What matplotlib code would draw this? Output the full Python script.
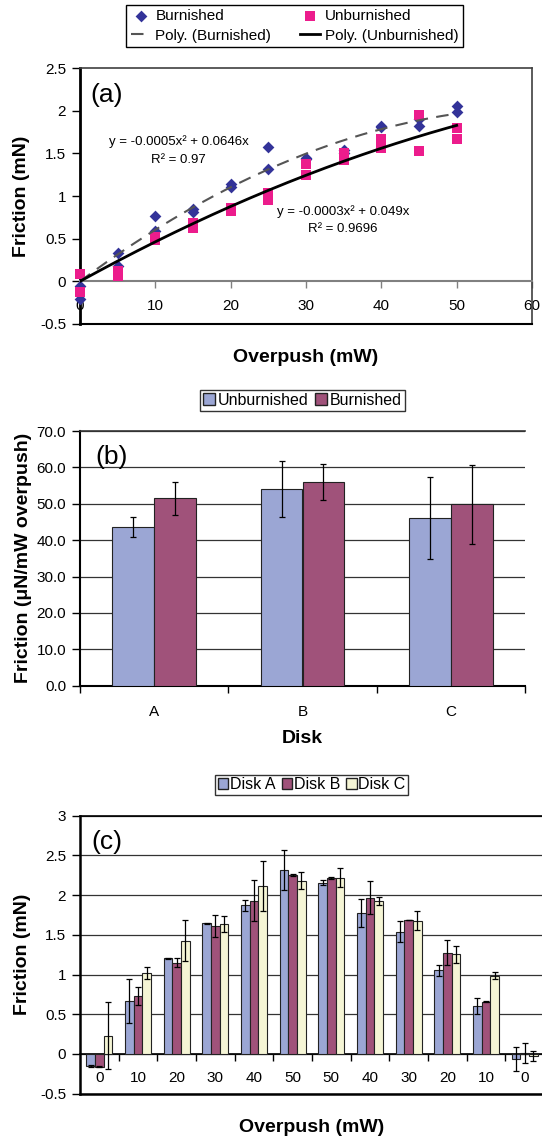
import numpy as np
import matplotlib
matplotlib.use("Agg")
import matplotlib.pyplot as plt
from matplotlib.ticker import FuncFormatter, MultipleLocator, FixedLocator
from matplotlib.patches import Patch

plt.rcParams['font.family'] = ['Liberation Sans', 'DejaVu Sans']

# ---------------- (a) friction vs overpush, two runs per setting ----------------
overpush = [0, 0, 5, 5, 10, 10, 15, 15, 20, 20, 25, 25, 30, 30, 35, 35, 40, 40, 45, 45, 50, 50]
burnished = [-0.05, -0.21, 0.33, 0.18, 0.77, 0.59, 0.85, 0.81, 1.14, 1.11, 1.58, 1.32,
             1.45, 1.43, 1.54, 1.50, 1.82, 1.81, 1.82, 1.90, 2.05, 1.98]
unburnished = [0.09, -0.12, 0.12, 0.06, 0.52, 0.48, 0.68, 0.62, 0.86, 0.82, 1.03, 0.95,
               1.38, 1.25, 1.50, 1.42, 1.67, 1.56, 1.95, 1.53, 1.80, 1.67]
eq_burnished = ["y = -0.0005x² + 0.0646x", "R² = 0.97"]
eq_unburnished = ["y = -0.0003x² + 0.049x", "R² = 0.9696"]

# ---------------- (b) friction rate per disk ----------------
disks = ["A", "B", "C"]
rate_unburnished = [43.5, 54.0, 46.0]
rate_unburnished_err = [2.75, 7.75, 11.3]
rate_burnished = [51.5, 55.9, 49.8]
rate_burnished_err = [4.5, 4.9, 10.85]

# ---------------- (c) friction through an overpush up/down sweep ----------------
sweep_labels = ["0", "10", "20", "30", "40", "50", "50", "40", "30", "20", "10", "0"]
disk_a = [-0.15, 0.667, 1.204, 1.645, 1.87, 2.316, 2.157, 1.77, 1.54, 1.053, 0.60, -0.063]
disk_a_err = [0.01, 0.28, 0.005, 0.01, 0.07, 0.25, 0.035, 0.175, 0.135, 0.065, 0.10, 0.15]
disk_b = [-0.16, 0.73, 1.15, 1.61, 1.93, 2.25, 2.215, 1.97, 1.687, 1.276, 0.66, 0.01]
disk_b_err = [0.005, 0.11, 0.055, 0.14, 0.255, 0.015, 0.015, 0.21, 0.005, 0.16, 0.005, 0.125]
disk_c = [0.23, 1.015, 1.427, 1.632, 2.115, 2.18, 2.22, 1.926, 1.68, 1.255, 0.986, -0.02]
disk_c_err = [0.42, 0.075, 0.255, 0.10, 0.31, 0.105, 0.12, 0.055, 0.125, 0.11, 0.045, 0.063]

NAVY = "#333399"
MAGENTA = "#EC1C8C"
BLUE = "#9BA6D4"
PLUM = "#A0527A"
CREAM = "#F5F5D5"
EDGE = "#222222"
GRID = "#333333"

W, H = 542, 1143
fig = plt.figure(figsize=(W / 100, H / 100), dpi=100)


def px_axes(left, top, right, bottom):
    return fig.add_axes([left / W, 1 - bottom / H, (right - left) / W, (bottom - top) / H])


gfmt = FuncFormatter(lambda v, p: f"{v:g}")
TICK_FS = 11
LABEL_FS = 14


def fit_through_origin(x, y):
    x = np.asarray(x, float)
    y = np.asarray(y, float)
    A = np.column_stack([x ** 2, x])
    coef, *_ = np.linalg.lstsq(A, y, rcond=None)
    return coef


# ================= panel (a) =================
ax = px_axes(80, 68, 532, 324)
x = np.asarray(overpush, float)
xs = np.linspace(0, 50, 200)
cb = fit_through_origin(overpush, burnished)
cu = fit_through_origin(overpush, unburnished)

h_b = ax.scatter(x, burnished, marker="D", s=36, color=NAVY, zorder=3, clip_on=False,
                 linewidths=0, label="Burnished")
h_u = ax.scatter(x, unburnished, marker="s", s=46, color=MAGENTA, zorder=4, clip_on=False,
                 linewidths=0, label="Unburnished")
l_b, = ax.plot(xs, cb[0] * xs ** 2 + cb[1] * xs, color="#555555", lw=1.5,
               dashes=(6, 4), zorder=5, label="Poly. (Burnished)")
l_u, = ax.plot(xs, cu[0] * xs ** 2 + cu[1] * xs, color="black", lw=2, zorder=5,
               label="Poly. (Unburnished)")

ax.set_xlim(0, 60)
ax.set_ylim(-0.5, 2.5)
ax.xaxis.set_major_locator(MultipleLocator(10))
ax.yaxis.set_major_locator(MultipleLocator(0.5))
ax.xaxis.set_major_formatter(gfmt)
ax.yaxis.set_major_formatter(gfmt)
ax.spines["bottom"].set_position(("data", 0))
ax.spines["bottom"].set_color("#808080")
ax.spines["bottom"].set_linewidth(1.5)
ax.spines["left"].set_color("black")
ax.spines["left"].set_linewidth(2)
for s in ("top", "right"):
    ax.spines[s].set_color("#404040")
    ax.spines[s].set_linewidth(1.2)
ax.axhline(-0.5, color="black", lw=1.5, clip_on=False, zorder=6)
ax.tick_params(axis="x", direction="out", length=5, width=1, pad=8, labelsize=TICK_FS,
               color="#808080")
ax.tick_params(axis="y", direction="out", length=6, width=1, pad=4, labelsize=TICK_FS)
ax.set_xlabel("Overpush (mW)", fontsize=LABEL_FS, fontweight="bold")
ax.xaxis.set_label_coords(0.5, -0.097)
ax.xaxis.label.set_va("top")
ax.set_ylabel("Friction (mN)", fontsize=LABEL_FS, fontweight="bold")
ax.yaxis.set_label_coords(-0.11, 0.5)
ax.text(0.022, 0.894, "(a)", transform=ax.transAxes, fontsize=19, ha="left", va="center")
ax.text(13.1, 1.64, eq_burnished[0], fontsize=9.5, ha="center", va="center")
ax.text(13.1, 1.42, eq_burnished[1], fontsize=9.5, ha="center", va="center")
ax.text(34.9, 0.82, eq_unburnished[0], fontsize=9.5, ha="center", va="center")
ax.text(34.9, 0.61, eq_unburnished[1], fontsize=9.5, ha="center", va="center")

leg = fig.legend(handles=[h_b, l_b, h_u, l_u], loc="center",
                 bbox_to_anchor=(294.7 / W, 1 - 26 / H), ncol=2, fontsize=11,
                 frameon=True, fancybox=False, edgecolor="black", framealpha=1,
                 handlelength=1.3, handletextpad=0.3, columnspacing=1.9,
                 labelspacing=0.35, borderpad=0.3, borderaxespad=0)
leg.get_frame().set_linewidth(1)

# ================= panel (b) =================
ax = px_axes(80, 431, 525, 685.7)
xb = np.arange(len(disks))
wb = 0.281
ekw = dict(ecolor="black", elinewidth=0.9, capthick=0.9)
ax.bar(xb - wb / 2, rate_unburnished, wb, yerr=rate_unburnished_err, capsize=2,
       color=BLUE, edgecolor=EDGE, linewidth=0.8, error_kw=ekw, zorder=3)
ax.bar(xb + wb / 2, rate_burnished, wb, yerr=rate_burnished_err, capsize=2,
       color=PLUM, edgecolor=EDGE, linewidth=0.8, error_kw=ekw, zorder=3)
ax.set_xlim(-0.5, 2.5)
ax.set_ylim(0, 70)
ax.yaxis.set_major_locator(MultipleLocator(10))
ax.yaxis.set_major_formatter(FuncFormatter(lambda v, p: f"{v:.1f}"))
ax.set_xticks(xb)
ax.set_xticklabels(disks)
ax.xaxis.set_minor_locator(FixedLocator([-0.5, 0.5, 1.5, 2.5]))
ax.tick_params(axis="x", which="major", length=0, pad=14, labelsize=TICK_FS)
ax.tick_params(axis="x", which="minor", direction="out", length=5, width=1)
ax.tick_params(axis="y", direction="out", length=6, width=1, pad=4, labelsize=TICK_FS)
ax.yaxis.grid(True, color=GRID, lw=0.9)
ax.set_axisbelow(True)
ax.spines["left"].set_linewidth(1.5)
ax.spines["bottom"].set_linewidth(1.5)
ax.spines["top"].set_linewidth(1.2)
ax.spines["top"].set_color("#333333")
ax.spines["right"].set_visible(False)
ax.set_xlabel("Disk", fontsize=LABEL_FS, fontweight="bold")
ax.xaxis.set_label_coords(0.5, -0.175)
ax.xaxis.label.set_va("top")
ax.set_ylabel("Friction (μN/mW overpush)", fontsize=LABEL_FS, fontweight="bold")
ax.yaxis.set_label_coords(-0.108, 0.5)
ax.text(0.034, 0.899, "(b)", transform=ax.transAxes, fontsize=19, ha="left", va="center")
leg = fig.legend(handles=[Patch(facecolor=BLUE, edgecolor=EDGE, label="Unburnished"),
                          Patch(facecolor=PLUM, edgecolor=EDGE, label="Burnished")],
                 loc="center", bbox_to_anchor=(302.5 / W, 1 - 400.3 / H), ncol=2,
                 fontsize=11.5, frameon=True, fancybox=False, edgecolor="#333333",
                 framealpha=1, handlelength=0.75, handleheight=0.75, handletextpad=0.15,
                 columnspacing=0.45, borderpad=0.2, borderaxespad=0)
leg.get_frame().set_linewidth(1)

# ================= panel (c) =================
ax = px_axes(80, 815.7, 544, 1093.7)
xc = np.arange(len(sweep_labels))
wc = 0.222
for off, vals, errs, col in ((-wc, disk_a, disk_a_err, BLUE),
                             (0, disk_b, disk_b_err, PLUM),
                             (wc, disk_c, disk_c_err, CREAM)):
    ax.bar(xc + off, vals, wc, yerr=errs, capsize=2, color=col, edgecolor=EDGE,
           linewidth=0.8, error_kw=ekw, zorder=3)
ax.set_xlim(-0.5, 11.5)
ax.set_ylim(-0.5, 3)
ax.yaxis.set_major_locator(MultipleLocator(0.5))
ax.yaxis.set_major_formatter(gfmt)
ax.set_xticks(xc)
ax.set_xticklabels(sweep_labels)
ax.xaxis.set_minor_locator(FixedLocator(np.arange(0.5, 11, 1.0)))
ax.tick_params(axis="x", which="major", length=0, pad=12, labelsize=TICK_FS)
ax.tick_params(axis="x", which="minor", direction="out", length=5, width=1)
ax.tick_params(axis="y", direction="out", length=6, width=1, pad=4, labelsize=TICK_FS)
ax.yaxis.grid(True, color=GRID, lw=0.9)
ax.set_axisbelow(True)
ax.spines["bottom"].set_position(("data", 0))
ax.spines["bottom"].set_linewidth(1.2)
ax.spines["left"].set_linewidth(1.8)
ax.spines["top"].set_linewidth(1.2)
ax.spines["right"].set_visible(False)
ax.axhline(-0.5, color="black", lw=1.8, clip_on=False, zorder=6)
ax.set_xlabel("Overpush (mW)", fontsize=LABEL_FS, fontweight="bold")
ax.xaxis.set_label_coords(0.5, -0.09)
ax.xaxis.label.set_va("top")
ax.set_ylabel("Friction (mN)", fontsize=LABEL_FS, fontweight="bold")
ax.yaxis.set_label_coords(-0.105, 0.5)
ax.text(0.025, 0.906, "(c)", transform=ax.transAxes, fontsize=19, ha="left", va="center")
leg = fig.legend(handles=[Patch(facecolor=BLUE, edgecolor=EDGE, label="Disk A"),
                          Patch(facecolor=PLUM, edgecolor=EDGE, label="Disk B"),
                          Patch(facecolor=CREAM, edgecolor=EDGE, label="Disk C")],
                 loc="center", bbox_to_anchor=(311.7 / W, 1 - 784.8 / H), ncol=3,
                 fontsize=11.5, frameon=True, fancybox=False, edgecolor="#333333",
                 framealpha=1, handlelength=0.65, handleheight=0.65, handletextpad=0.1,
                 columnspacing=0.4, borderpad=0.15, borderaxespad=0)
leg.get_frame().set_linewidth(1)

fig.savefig("out.png", dpi=100)
